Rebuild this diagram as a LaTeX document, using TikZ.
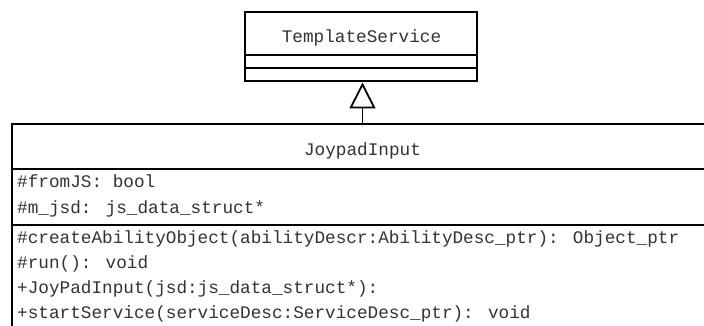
\documentclass[tikz,border=0pt]{standalone}
\usepackage{fontspec}
\usepackage{tikz}
\usetikzlibrary{arrows.meta, positioning}
\newfontfamily\umlmono{Liberation Mono}
\tikzset{
  umlbox/.style={
    rectangle, draw=black, fill=white,
    line width=2.5pt, inner sep=0pt, outer sep=0pt,
    minimum width=#1
  },
  umltext/.style={font={\umlmono\fontsize{17.7pt}{26pt}\selectfont},
    text=black!80, inner sep=0pt},
  inherit/.style={line width=1.8pt,
    -{Triangle[open, length=26pt, width=26pt, line width=1.8pt]}}
}

\begin{document}
\begin{tikzpicture}[x=1pt, y=-1pt]
  \clip (0,0) rectangle (704,326);
  \useasboundingbox (0,0) rectangle (704,326);

  % base class
  \node[umlbox=232pt, minimum height=43pt, anchor=north] (tsname) at (361,12) {};
  \node[umlbox=232pt, minimum height=13pt, below=0pt of tsname] (tsattr) {};
  \node[umlbox=232pt, minimum height=13pt, below=0pt of tsattr] (tsops) {};
  \node[umltext, anchor=base] (tslabel) at (361.5,43) {TemplateService};

  % derived class
  \node[umlbox=701pt, minimum height=45pt, anchor=north] (jpname) at (362.5,124) {};
  \node[umlbox=701pt, minimum height=56pt, below=0pt of jpname] (jpattr) {};
  \node[umlbox=701pt, minimum height=115pt, below=0pt of jpattr] (jpops) {};
  \node[umltext, anchor=base] (jplabel) at (362.5,156) {JoypadInput};

  \node[umltext, anchor=base west] (fromjs) at (17,187) {\#fromJS: bool};
  \node[umltext, anchor=base west] (mjsd)   at (17,213) {\#m\_jsd: js\_data\_struct*};

  \node[umltext, anchor=base west] (create) at (17,243)
    {\#createAbilityObject(abilityDescr:AbilityDesc\_ptr): Object\_ptr};
  \node[umltext, anchor=base west] (run)    at (17,268) {\#run(): void};
  \node[umltext, anchor=base west] (ctor)   at (17,293) {+JoyPadInput(jsd:js\_data\_struct*):};
  \node[umltext, anchor=base west] (start)  at (17,318)
    {+startService(serviceDesc:ServiceDesc\_ptr): void};

  % generalisation
  \draw[inherit, shorten >=1.5pt] (jpname.north) -- (jpname.north |- tsops.south);
\end{tikzpicture}
\end{document}
